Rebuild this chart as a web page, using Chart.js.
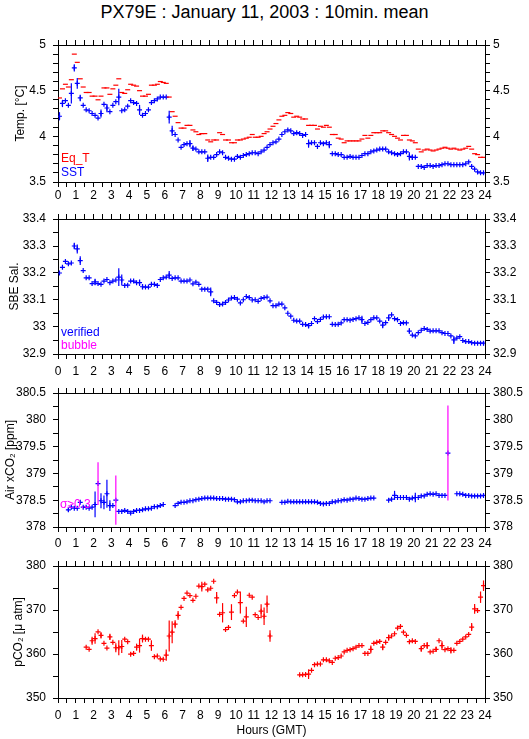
<!DOCTYPE html>
<html>
<head>
<meta charset="utf-8">
<script src="https://cdn.jsdelivr.net/npm/chart.js@4.4.0/dist/chart.umd.min.js"></script>
<style>
  body { margin: 0; background: #fff; width: 529px; height: 739px; position: relative; overflow: hidden;
         font-family: "Liberation Sans", Arial, sans-serif; }
  canvas { position: absolute; left: 0; }
  .lbl { position: absolute; white-space: nowrap; font-size: 12px; line-height: 12px; }
</style>
</head>
<body>
<div class="lbl" style="left:0;top:2px;width:529px;text-align:center;font-size:18px;line-height:20px">PX79E : January 11, 2003 : 10min. mean</div>

<canvas id="c1" width="529" height="176" style="top:30px"></canvas>
<canvas id="c2" width="529" height="174" style="top:206px"></canvas>
<canvas id="c3" width="529" height="173" style="top:380px"></canvas>
<canvas id="c4" width="529" height="186" style="top:553px"></canvas>

<div class="lbl" style="left:61px;top:152px;color:#f00">Eq_T</div>
<div class="lbl" style="left:61px;top:166px;color:#00f">SST</div>
<div class="lbl" style="left:61px;top:326px;color:#00f">verified</div>
<div class="lbl" style="left:61px;top:339px;color:#f0f">bubble</div>
<div class="lbl" style="left:60px;top:498px;color:#f0f">σ≥0.3</div>

<script>
// 10-minute means, index i -> hour (i + 0.5) / 6 ; null = no data
const sst = [
  4.22,4.36,4.39,4.34,4.47,4.75,4.58,4.42,4.34,4.29,
  4.28,4.25,4.23,4.20,4.25,4.35,4.31,4.27,4.34,4.38,
  4.43,4.28,4.29,4.33,4.39,4.37,4.36,4.29,4.23,4.25,
  4.29,4.37,4.39,4.41,4.43,4.43,4.43,4.21,4.06,4.02,
  3.96,3.88,3.91,3.92,3.92,3.87,3.86,3.83,3.83,3.83,
  3.76,3.77,3.77,3.80,3.83,3.82,3.77,3.76,3.75,3.75,
  3.78,3.77,3.79,3.80,3.81,3.82,3.82,3.81,3.83,3.85,
  3.88,
  3.91,3.93,3.94,3.97,4.02,4.05,4.07,4.06,4.03,4.04,
  4.03,4.01,4.02,3.92,3.93,3.93,3.89,3.93,3.92,3.93,
  3.91,3.81,3.81,3.80,3.80,3.77,3.77,3.78,3.77,3.77,
  3.77,3.79,3.81,3.81,3.83,3.84,3.85,3.86,3.86,3.86,
  3.83,3.82,3.81,3.80,3.81,3.83,3.83,3.78,3.77,3.77,
  3.67,3.67,3.66,3.68,3.68,3.67,3.68,3.68,3.69,3.70,
  3.70,3.69,3.69,3.69,3.69,3.69,3.70,3.72,3.67,3.64,
  3.61,3.60,3.60
];
const sstErr = [[0,0.045],[1,0.04],[4,0.11],[5,0.04],[6,0.06],[7,0.035],[14,0.045],[16,0.045],
  [20,0.09],[27,0.055],[37,0.07],[38,0.055],[44,0.04],[45,0.03],[50,0.04],[84,0.045],[91,0.04],[118,0.045],[119,0.03]];

const eqT = [
  4.42,4.52,4.57,4.54,4.62,4.90,4.81,4.63,4.54,4.48,
  4.48,4.44,4.44,4.40,4.44,4.53,4.53,4.46,4.52,4.56,
  4.63,4.48,4.47,4.51,4.57,4.56,4.55,4.50,4.44,4.44,
  4.46,4.56,4.56,4.57,4.60,4.59,4.58,4.43,4.27,4.22,
  4.15,4.09,4.09,4.12,4.12,4.07,4.05,4.02,4.03,4.03,
  3.96,3.94,3.96,3.96,4.04,4.02,3.96,3.96,3.93,3.93,
  3.96,3.96,3.97,3.98,3.99,4.02,3.99,3.99,4.00,4.03,
  4.05,
  4.08,4.11,4.14,4.18,4.22,4.23,4.26,4.25,4.21,4.22,
  4.21,4.19,4.19,4.12,4.12,4.12,4.08,4.11,4.10,4.12,
  4.10,4.02,4.02,3.98,3.97,3.93,3.95,3.95,3.95,3.95,
  3.95,3.97,4.01,3.98,4.01,4.04,4.04,4.04,4.06,4.06,
  4.04,4.02,4.00,3.98,3.96,4.01,4.01,3.96,3.95,3.93,
  3.86,3.83,3.85,3.86,3.85,3.84,3.85,3.86,3.87,3.88,
  3.87,3.86,3.87,3.86,3.85,3.86,3.87,3.89,3.86,3.81,
  3.80,3.77,3.77
];

const sal = [
  33.200,33.221,33.243,33.234,33.237,33.300,33.289,33.246,33.209,33.182,
  33.182,33.161,33.167,33.161,33.158,33.170,33.176,33.164,33.170,33.174,
  33.185,33.174,33.154,33.155,33.170,33.170,33.164,33.164,33.149,33.148,
  33.148,33.158,33.158,33.154,33.176,33.182,33.185,33.192,33.180,33.182,
  33.182,33.170,33.170,33.170,33.174,33.160,33.166,33.158,33.140,33.140,
  33.140,33.130,33.097,33.091,33.083,33.085,33.091,33.100,33.107,33.109,
  33.103,33.089,33.101,33.113,33.109,33.100,33.101,33.095,33.106,33.109,
  33.111,
  33.097,33.079,33.079,33.085,33.085,33.071,33.051,33.040,33.025,33.022,
  33.022,33.010,33.009,33.005,33.013,33.031,33.020,33.028,33.037,33.038,
  33.038,33.010,33.009,33.010,33.015,33.027,33.027,33.025,33.028,33.031,
  33.034,33.027,33.013,33.017,33.027,33.034,33.034,33.022,33.007,33.016,
  33.034,33.045,33.031,33.027,33.013,33.016,33.015,32.985,32.970,32.967,
  32.979,32.988,32.994,32.991,32.985,32.986,32.986,32.986,32.979,32.976,
  32.976,32.967,32.952,32.959,32.964,32.950,32.946,32.946,32.942,32.940,
  32.940,32.940,32.940
];
const salErr = [[5,0.012],[6,0.017],[7,0.016],[12,0.012],[20,0.033],[21,0.02],[27,0.012],[28,0.01],
  [37,0.015],[51,0.016],[84,0.01],[102,0.015],[109,0.012],[111,0.012],[118,0.01],[133,0.015],[143,0.008]];

const xco2 = [
  null,null,null,378.32,378.37,378.35,378.35,378.46,378.37,378.37,
  378.35,378.37,378.42,378.81,378.49,378.46,378.62,378.40,378.40,378.50,
  378.29,378.29,378.31,378.29,378.26,378.29,378.31,378.31,378.32,378.34,
  378.34,378.35,378.38,378.38,378.40,378.42,null,null,null,378.40,
  378.44,378.46,378.46,378.47,378.49,378.49,378.51,378.52,378.53,378.54,
  378.54,378.54,378.54,378.53,378.53,378.53,378.52,378.52,378.52,378.51,
  378.47,378.47,378.49,378.49,378.50,378.50,378.49,378.49,378.49,378.47,
  378.49,378.49,null,null,null,378.46,378.46,378.48,378.47,378.47,
  378.47,378.47,378.47,378.47,378.47,378.47,378.47,378.46,378.44,378.43,
  378.44,378.44,378.47,378.47,378.49,378.49,378.51,378.50,378.52,378.52,
  378.54,378.53,378.52,378.52,378.53,378.54,378.54,null,null,null,
  null,378.50,378.52,378.59,378.55,378.55,378.55,378.55,378.52,378.54,
  378.55,378.55,378.58,378.58,378.61,378.62,378.61,378.62,378.59,378.59,
  378.59,379.38,null,null,378.62,378.62,378.61,378.59,378.59,378.58,
  378.58,378.58,378.58,378.59
];
const xco2Err = [[3,0.03],[12,0.24],[13,0.40],[14,0.14],[15,0.13],[16,0.26],[17,0.1],[19,0.46],
  [113,0.085],[120,0.09],[131,0.885]];

const pco2 = [
  null,null,null,null,null,null,null,null,null,361.56,
  361.06,363.01,363.51,365.03,364.24,362.43,361.35,363.88,362.65,361.42,
  361.42,361.71,363.37,362.79,359.97,360.12,361.56,361.92,363.51,363.37,
  363.37,361.92,359.39,359.54,358.89,358.81,359.75,364.09,364.96,366.77,
  368.79,370.60,372.62,373.85,373.27,372.19,373.13,375.44,375.30,375.88,
  374.58,374.94,376.53,372.77,369.01,369.37,365.54,366.04,369.52,373.27,
  374.07,371.68,367.49,368.43,373.35,372.91,368.94,368.29,369.73,368.58,
  371.32,364.09,null,null,null,null,null,null,null,null,
  null,355.27,355.27,355.35,355.42,356.28,357.58,357.73,357.73,358.67,
  358.67,358.45,358.09,359.03,359.18,359.54,360.48,360.84,360.98,361.20,
  361.56,361.92,361.92,360.12,360.12,361.06,362.43,362.65,362.86,361.56,
  362.65,363.73,364.09,364.60,365.90,366.26,364.96,364.24,362.79,363.01,
  362.86,null,361.20,361.92,361.92,360.48,360.62,361.06,363.01,361.92,
  360.98,361.20,360.84,360.84,362.43,362.86,363.37,363.88,364.45,366.12,
  370.24,369.88,372.91,375.52
];
const pco2Err = [[11,0.9],[12,1.2],[14,0.7],[17,0.7],[19,1.0],[20,1.7],[21,1.5],[26,0.8],[27,1.6],
  [28,0.9],[31,1.2],[36,1.3],[37,3.5],[38,2.5],[39,0.9],[40,1.0],[48,1.1],[53,1.3],[55,2.2],[58,1.8],
  [61,2.5],[63,2.3],[68,1.6],[69,2.0],[70,2.0],[71,1.3],[84,1.1],[105,0.9],[109,0.7],[111,0.7],
  [122,0.7],[124,0.8],[127,0.6],[129,1.0],[132,0.7],[139,0.9],[140,1.1],[142,1.3],[143,1.2]];

const RED = '#ff0000', BLUE = '#0000ff', MAGENTA = '#ff00ff';
const FONT = {family: '"Liberation Sans", Arial, sans-serif', size: 12, lineHeight: 1};

const hourOf = i => (i + 0.5) / 6;
const toPoints = vals => vals.map((v, i) => v === null ? null : {x: hourOf(i), y: v}).filter(p => p);

// vertical error bars (std dev) drawn through the chart's own scales
const errBars = {
  id: 'errBars',
  afterDatasetsDraw(chart) {
    const {ctx, scales: {x, y}} = chart;
    chart.data.datasets.forEach(ds => {
      if (!ds.errs) return;
      ctx.save();
      ctx.lineWidth = 1.2;
      ds.errs.forEach(([i, e]) => {
        const v = ds.vals[i];
        if (v === null) return;
        const px = x.getPixelForValue(hourOf(i));
        ctx.strokeStyle = ds.flagAt && e >= ds.flagAt ? MAGENTA : ds.borderColor;
        ctx.beginPath();
        ctx.moveTo(px, y.getPixelForValue(v - e));
        ctx.lineTo(px, y.getPixelForValue(v + e));
        ctx.stroke();
      });
      ctx.restore();
    });
  }
};

function series(vals, color, style, errs, flagAt){
  return {
    data: toPoints(vals), vals, errs, flagAt,
    borderColor: color, backgroundColor: color,
    pointStyle: style, pointRadius: 2.5, pointBorderWidth: 1.2,
    showLine: false
  };
}

function panel(id, o){
  const isMajor = v => Math.abs(v / o.major - Math.round(v / o.major)) < 1e-6;
  const yTicks = pad => ({
    stepSize: o.step, autoSkip: false, padding: pad, color: '#000', font: FONT,
    callback: v => isMajor(v) ? String(+v.toFixed(2)) : ''
  });
  const frame = {drawOnChartArea: false, tickLength: 5, color: '#000', lineWidth: 1};
  return new Chart(document.getElementById(id), {
    type: 'scatter',
    data: {datasets: o.datasets},
    options: {
      responsive: false, animation: false, events: [],
      layout: {padding: 0},
      plugins: {legend: {display: false}, tooltip: {enabled: false}},
      scales: {
        x: {
          type: 'linear', position: 'bottom', min: 0, max: 24,
          ticks: {stepSize: 0.5, autoSkip: false, maxRotation: 0, padding: o.xPad, color: '#000', font: FONT,
                  callback: v => Number.isInteger(v) ? String(v) : ''},
          grid: frame, border: {color: '#000', width: 1},
          title: {display: !!o.xTitle, text: o.xTitle || '', color: '#000', font: {size: 12, family: FONT.family},
                  padding: {top: 0, bottom: 1}},
          afterFit: s => { s.height = o.botH; }
        },
        xTop: {
          type: 'linear', position: 'top', min: 0, max: 24,
          ticks: {stepSize: 0.5, autoSkip: false, display: false},
          grid: frame, border: {color: '#000', width: 1},
          afterFit: s => { s.height = o.topH; }
        },
        y: {
          type: 'linear', position: 'left', min: o.min, max: o.max,
          ticks: yTicks(7), grid: frame, border: {color: '#000', width: 1},
          title: {display: true, text: o.yTitle, color: '#000', font: {size: 12, family: FONT.family},
                  padding: {top: o.titlePad, bottom: 0}},
          afterFit: s => { s.width = 58; }
        },
        yRight: {
          type: 'linear', position: 'right', min: o.min, max: o.max,
          ticks: yTicks(3), grid: frame, border: {color: '#000', width: 1},
          afterFit: s => { s.width = 44; }
        }
      }
    },
    plugins: [errBars]
  });
}

panel('c1', {
  min: 3.5, max: 5, step: 0.1, major: 0.5, topH: 15, botH: 24, xPad: 3,
  yTitle: 'Temp. [°C]', titlePad: 13,
  datasets: [series(eqT, RED, 'line'), series(sst, BLUE, 'cross', sstErr)]
});
panel('c2', {
  min: 32.9, max: 33.4, step: 0.05, major: 0.1, topH: 11, botH: 26, xPad: 7,
  yTitle: 'SBE Sal.', titlePad: 7,
  datasets: [series(sal, BLUE, 'cross', salErr)]
});
panel('c3', {
  min: 378, max: 380.5, step: 0.25, major: 0.5, topH: 9, botH: 26, xPad: 6,
  yTitle: 'Air xCO₂ [ppm]', titlePad: 3,
  datasets: [series(xco2, BLUE, 'cross', xco2Err, 0.3)]
});
panel('c4', {
  min: 350, max: 380, step: 5, major: 10, topH: 7, botH: 41, xPad: 7,
  yTitle: 'pCO₂ [μ atm]', titlePad: 11, xTitle: 'Hours (GMT)',
  datasets: [series(pco2, RED, 'cross', pco2Err)]
});
</script>
</body>
</html>
